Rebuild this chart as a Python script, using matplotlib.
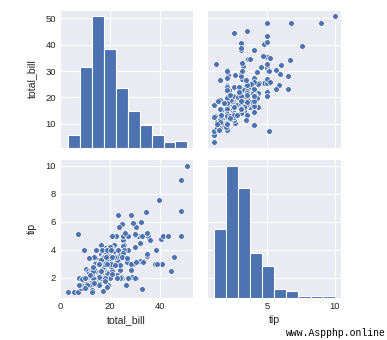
import matplotlib
matplotlib.use("Agg")
import matplotlib.pyplot as plt
import seaborn as sns
import numpy as np

# tips: total bill and tip per table
total_bill = [16.99, 10.34, 21.01, 23.68, 24.59, 25.29, 8.77, 26.88, 15.04, 14.78,
              10.27, 35.26, 15.42, 18.43, 14.83, 21.58, 10.33, 16.29, 16.97, 20.65,
              17.92, 20.29, 15.77, 39.42, 19.82, 17.81, 13.37, 12.69, 21.70, 19.65,
              9.55, 18.35, 15.06, 20.69, 17.78, 24.06, 16.31, 16.93, 18.69, 31.27,
              16.04, 17.46, 13.94, 9.68, 30.40, 18.29, 22.23, 32.40, 28.55, 18.04,
              12.54, 10.29, 34.81, 9.94, 25.56, 19.49, 38.01, 26.41, 11.24, 48.27,
              20.29, 13.81, 11.02, 18.29, 17.59, 20.08, 16.45, 3.07, 20.23, 15.01,
              12.02, 17.07, 26.86, 25.28, 14.73, 10.51, 17.92, 27.20, 22.76, 17.29,
              19.44, 16.66, 10.07, 32.68, 15.98, 34.83, 13.03, 18.28, 24.71, 21.16,
              28.97, 22.49, 5.75, 16.32, 22.75, 40.17, 27.28, 12.03, 21.01, 12.46,
              11.35, 15.38, 44.30, 22.42, 20.92, 15.36, 20.49, 25.21, 18.24, 14.31,
              14.00, 7.25, 38.07, 23.95, 25.71, 17.31, 29.93, 10.65, 12.43, 24.08,
              11.69, 13.42, 14.26, 15.95, 12.48, 29.80, 8.52, 14.52, 11.38, 22.82,
              19.08, 20.27, 11.17, 12.26, 18.26, 8.51, 10.33, 14.15, 16.00, 13.16,
              17.47, 34.30, 41.19, 27.05, 16.43, 8.35, 18.64, 11.87, 9.78, 7.51,
              14.07, 13.13, 17.26, 24.55, 19.77, 29.85, 48.17, 25.00, 13.39, 16.49,
              21.50, 12.66, 16.21, 13.81, 17.51, 24.52, 20.76, 31.71, 10.59, 10.63,
              50.81, 15.81, 7.25, 31.85, 16.82, 32.90, 17.89, 14.48, 9.60, 34.63,
              34.65, 23.33, 45.35, 23.17, 40.55, 20.69, 20.90, 30.46, 18.15, 23.10,
              15.69, 19.81, 28.44, 15.48, 16.58, 7.56, 10.34, 43.11, 13.00, 13.51,
              18.71, 12.74, 13.00, 16.40, 20.53, 16.47, 26.59, 38.73, 24.27, 12.76,
              30.06, 25.89, 48.33, 13.27, 28.17, 12.90, 28.15, 11.59, 7.74, 30.14,
              12.16, 13.42, 8.58, 15.98, 13.42, 16.27, 10.09, 20.45, 13.28, 22.12,
              24.01, 15.69, 11.61, 10.77, 15.53, 10.07, 12.60, 32.83, 35.83, 29.03,
              27.18, 22.67, 17.82, 18.78]
tip = [1.01, 1.66, 3.50, 3.31, 3.61, 4.71, 2.00, 3.12, 1.96, 3.23,
       1.71, 5.00, 1.57, 3.00, 3.02, 3.92, 1.67, 3.71, 3.50, 3.35,
       4.08, 2.75, 2.23, 7.58, 3.18, 2.34, 2.00, 2.00, 4.30, 3.00,
       1.45, 2.50, 3.00, 2.45, 3.27, 3.60, 2.00, 3.07, 2.31, 5.00,
       2.24, 2.54, 3.06, 1.32, 5.60, 3.00, 5.00, 6.00, 2.05, 3.00,
       2.50, 2.60, 5.20, 1.56, 4.34, 3.51, 3.00, 1.50, 1.76, 6.73,
       3.21, 2.00, 1.98, 3.76, 2.64, 3.15, 2.47, 1.00, 2.01, 2.09,
       1.97, 3.00, 3.14, 5.00, 2.20, 1.25, 3.08, 4.00, 3.00, 2.71,
       3.00, 3.40, 1.83, 5.00, 2.03, 5.17, 2.00, 4.00, 5.85, 3.00,
       3.00, 3.50, 1.00, 4.30, 3.25, 4.73, 4.00, 1.50, 3.00, 1.50,
       2.50, 3.00, 2.50, 3.48, 4.08, 1.64, 4.06, 4.29, 3.76, 4.00,
       3.00, 1.00, 4.00, 2.55, 4.00, 3.50, 5.07, 1.50, 1.80, 2.92,
       2.31, 1.68, 2.50, 2.00, 2.52, 4.20, 1.48, 2.00, 2.00, 2.18,
       1.50, 2.83, 1.50, 2.00, 3.25, 1.25, 2.00, 2.00, 2.00, 2.75,
       3.50, 6.70, 5.00, 5.00, 2.30, 1.50, 1.36, 1.63, 1.73, 2.00,
       2.50, 2.00, 2.74, 2.00, 2.00, 5.14, 5.00, 3.75, 2.61, 2.00,
       3.50, 2.50, 2.00, 2.00, 3.00, 3.48, 2.24, 4.50, 1.61, 2.00,
       10.00, 3.16, 5.15, 3.18, 4.00, 3.11, 2.00, 2.00, 4.00, 3.55,
       3.68, 5.65, 3.50, 6.50, 3.00, 5.00, 3.50, 2.00, 3.50, 4.00,
       1.50, 4.19, 2.56, 2.02, 4.00, 1.44, 2.00, 5.00, 2.00, 2.00,
       4.00, 2.01, 2.00, 2.50, 4.00, 3.23, 3.41, 3.00, 2.03, 2.23,
       2.00, 5.16, 9.00, 2.50, 6.50, 1.10, 3.00, 1.50, 1.44, 3.09,
       2.20, 3.48, 1.92, 3.00, 1.58, 2.50, 2.00, 3.00, 2.72, 2.88,
       2.00, 3.00, 3.39, 1.47, 3.00, 1.25, 1.00, 1.17, 4.67, 5.92,
       2.00, 2.00, 1.75, 3.00]

variables = ["total_bill", "tip"]
columns = {"total_bill": np.array(total_bill), "tip": np.array(tip)}
x_ticks = {"total_bill": [0, 20, 40], "tip": [5, 10]}
y_ticks = {"total_bill": [10, 20, 30, 40, 50], "tip": [2, 4, 6, 8, 10]}

sns.set_style("darkgrid")
plt.rcParams["font.family"] = ["Liberation Sans", "DejaVu Sans"]

blue = "#4C72B0"

fig, axes = plt.subplots(2, 2, figsize=(3.87, 3.40), dpi=100,
                         sharex="col", sharey="row")
fig.subplots_adjust(left=0.155, right=0.881, top=0.971, bottom=0.124,
                    wspace=0.105, hspace=0.08)

for i, yvar in enumerate(variables):
    for j, xvar in enumerate(variables):
        ax = axes[i, j]
        if i == j:
            # histogram lives on its own y scale, drawn over the shared one
            hax = ax.twinx()
            hax.hist(columns[xvar], bins=10, color=blue, edgecolor="white",
                     linewidth=0.8)
            hax.grid(False)
            hax.set_yticks([])
            hax.yaxis.set_visible(False)
            for s in hax.spines.values():
                s.set_visible(False)
            # keep the shared y range tied to the data range
            ax.scatter(columns[xvar], columns[xvar], s=0, alpha=0)
        else:
            ax.scatter(columns[xvar], columns[yvar], s=17, color=blue,
                       edgecolor="white", linewidth=0.5)
        ax.tick_params(labelsize=6.8, colors="0.15", length=0, pad=3)

for j, var in enumerate(variables):
    axes[1, j].set_xticks(x_ticks[var])
    axes[1, j].set_xlabel(var, fontsize=7.6, color="0.15", labelpad=3)
for i, var in enumerate(variables):
    axes[i, 0].set_yticks(y_ticks[var])
    axes[i, 0].set_ylabel(var, fontsize=7.6, color="0.15", labelpad=6)

fig.text(0.997, 0.005, "www.Aspphp.online", ha="right", va="bottom",
         fontsize=7, family=["Liberation Mono", "DejaVu Sans Mono"],
         color="black")

fig.savefig("out.png", dpi=100)
